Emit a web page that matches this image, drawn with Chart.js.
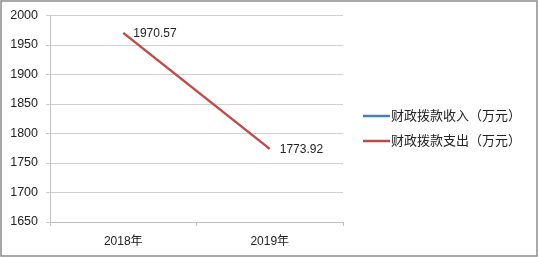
<!DOCTYPE html>
<html>
<head>
<meta charset="utf-8">
<script src="https://cdn.jsdelivr.net/npm/chart.js@4"></script>
<style>
  html, body { margin: 0; padding: 0; background: #fff; }
  #wrap { width: 539px; height: 257px; }
</style>
</head>
<body>
<div id="wrap"><canvas id="chart" width="539" height="257"></canvas></div>
<script>
const years = ["2018年", "2019年"];
const incomeValues = [null, null];
const spendValues = [1970.57, 1773.92];
const seriesNames = ["财政拨款收入（万元）", "财政拨款支出（万元）"];
const yTicks = [1650, 1700, 1750, 1800, 1850, 1900, 1950, 2000];

const FONT = "'Liberation Sans', Arial, 'Noto Sans CJK SC', sans-serif";

// frame, point labels and legend drawn by hand
const extras = {
  id: "extras",
  afterDraw(chart) {
    const ctx = chart.ctx;
    ctx.save();
    ctx.strokeStyle = "#8c8c8c";
    ctx.lineWidth = 1.5;
    ctx.strokeRect(1, 1, 536, 255);

    // value labels on spend series
    ctx.fillStyle = "#222";
    ctx.font = "12px " + FONT;
    ctx.textBaseline = "middle";
    ctx.textAlign = "left";
    const meta = chart.getDatasetMeta(1);
    meta.data.forEach((pt, i) => {
      ctx.fillText(spendValues[i].toFixed(2), pt.x + 10, pt.y + 1);
    });

    // legend
    ctx.font = "13px " + FONT;
    chart.data.datasets.forEach((ds, i) => {
      const y = 116 + i * 25;
      ctx.strokeStyle = ds.borderColor;
      ctx.lineWidth = 2.5;
      ctx.beginPath();
      ctx.moveTo(363, y);
      ctx.lineTo(390, y);
      ctx.stroke();
      ctx.fillStyle = "#222";
      ctx.fillText(ds.label, 391, y);
    });
    ctx.restore();
  },
};

new Chart(document.getElementById("chart"), {
  type: "line",
  data: {
    labels: years,
    datasets: [
      {
        label: seriesNames[0],
        data: incomeValues,
        borderColor: "#4a7ebb",
        borderWidth: 2.5,
        pointRadius: 0,
      },
      {
        label: seriesNames[1],
        data: spendValues,
        borderColor: "#be4b48",
        borderWidth: 2.5,
        pointRadius: 0,
      },
    ],
  },
  options: {
    responsive: false,
    animation: false,
    layout: { padding: { left: 0, top: 15, right: 196, bottom: 0 } },
    plugins: { legend: { display: false }, tooltip: { enabled: false } },
    scales: {
      x: {
        offset: true,
        grid: { offset: true, drawOnChartArea: false, tickLength: 4, color: "#c0c0c0" },
        border: { color: "#c0c0c0" },
        ticks: { color: "#222", font: { size: 12, family: FONT }, padding: 8 },
        afterFit: (s) => { s.height = 35; },
      },
      y: {
        min: 1650,
        max: 2000,
        afterBuildTicks: (s) => { s.ticks = yTicks.map((v) => ({ value: v })); },
        grid: { color: "#d0d0d0", tickLength: 4 },
        border: { color: "#c0c0c0" },
        ticks: {
          color: "#222",
          font: { size: 12.5, family: FONT },
          padding: 8,
          callback: (v) => String(v),
        },
        afterFit: (s) => { s.width = 50; },
      },
    },
  },
  plugins: [extras],
});
</script>
</body>
</html>
